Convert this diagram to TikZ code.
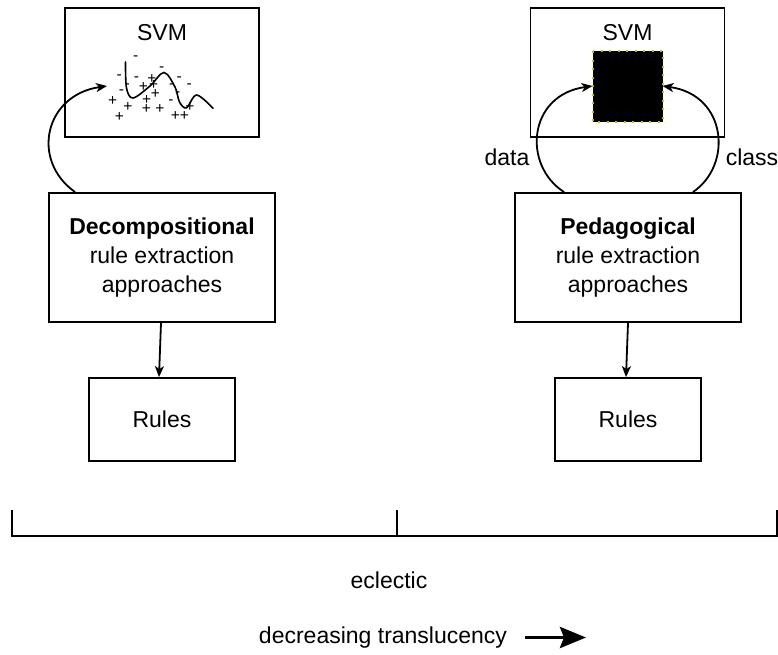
\documentclass[tikz,border=0pt]{standalone}
\usepackage{fontspec}
\setmainfont{Liberation Sans}
\usetikzlibrary{arrows.meta}
\definecolor{dotyellow}{RGB}{190,190,30}
\begin{document}
\begin{tikzpicture}[x=1pt,y=-1pt,
  every node/.style={font=\fontsize{23}{29}\selectfont},
  box/.style={draw, line width=1.8pt, rectangle, inner sep=0pt, align=center},
  svmbox/.style={box, minimum width=194pt, minimum height=129pt},
  methodbox/.style={box, minimum width=226pt, minimum height=129pt},
  rulebox/.style={box, minimum width=146pt, minimum height=83pt},
  link/.style={line width=1.8pt, -{Stealth[length=11pt,width=9pt,inset=3pt]}},
  plus/.style={inner sep=0pt, font=\fontsize{15.5}{15.5}\selectfont},
  minus/.style={inner sep=0pt, font=\fontsize{15.5}{15.5}\selectfont, yshift=-1.6pt},
  lbl/.style={inner sep=0pt, anchor=base}
]
\useasboundingbox (0,0) rectangle (778,655);

% ---- decompositional side ----
\node[svmbox] (svmL) at (162,72.5) {};
\node[lbl] (svmLt) at (162,41) {SVM};
\node[methodbox] (decomp) at (162,257.5) {\textbf{Decompositional}\\rule extraction\\approaches};
\node[rulebox] (rulesL) at (162,419.5) {Rules};

% decision boundary with the two classes around it
\draw[line width=1.6pt, line cap=round] plot[smooth, tension=0.55] coordinates
  {(125.5,62) (126.5,88) (133,98) (150,86) (164,72.5) (175,87) (179.5,102) (186.5,107.8) (196.7,95) (213,108.3)};
\foreach \p in {(135.7,56.5),(119.3,76),(136.5,77.5),(127.3,84.3),(121.5,90.5),
                (161.7,68),(179.3,77.8),(189.2,84.6),(171.7,84.3),(177.8,92.2),(171,100.3)}
  \node[minus] at \p {-};
\foreach \p in {(152,79),(143.3,86.7),(153.7,85),(155.3,94.5),(146.7,100),
                (112.7,101.2),(127.8,107.2),(119.3,116.6),(146.4,109),(160,108.8),
                (175.5,116.2),(184.5,116.2),(190,107.5)}
  \node[plus] at \p {+};

\coordinate (hitL) at (107,86);
\draw[link] ([xshift=27pt]decomp.north west) .. controls (30,160) and (45,95) .. (hitL);
\draw[link] ([xshift=-1pt]decomp.south) -- ([xshift=-3pt]rulesL.north);

% ---- pedagogical side ----
\node[svmbox] (svmR) at (627.5,72.5) {};
\node[lbl] (svmRt) at (627.5,41) {SVM};
\node[rectangle, fill=black, draw=black, line width=1pt, minimum width=69pt, minimum height=70pt, inner sep=0pt] (blackbox) at (627.5,87) {};
\draw[dotyellow, line width=2pt, dash pattern=on 2pt off 6.5pt]
  (blackbox.north west) rectangle (blackbox.south east);
\node[methodbox] (ped) at (628,257.5) {\textbf{Pedagogical}\\rule extraction\\approaches};
\node[rulebox] (rulesR) at (628,419.5) {Rules};

\draw[link] ([xshift=50pt]ped.north west) .. controls (522,165) and (528,95) .. ([yshift=1pt]blackbox.west);
\draw[link] ([xshift=-49pt]ped.north east) .. controls (733,165) and (727,95) .. ([yshift=1pt]blackbox.east);
\draw[link] (ped.south) -- ([xshift=-2pt]rulesR.north);
\node[lbl] (datat) at (507,165) {data};
\node[lbl] (classt) at (752,165) {class};

% ---- translucency scale ----
\coordinate (sl) at (12,510);
\coordinate (sm) at (397,510);
\coordinate (sr) at (777,510);
\draw[line width=1.8pt] (sl) -- (12,536) -- (777,536) -- (sr);
\draw[line width=1.8pt] (sm) -- (397,536);
\node[lbl] (eclectic) at (389,588) {eclectic};
\node[lbl] (decr) at (383,643) {decreasing translucency};
\coordinate (ta) at (525,637.5);
\coordinate (tb) at (586,637.5);
\draw[line width=3.8pt, -{Stealth[length=26pt,width=21pt,inset=4pt]}] (ta) -- (tb);
\end{tikzpicture}
\end{document}
